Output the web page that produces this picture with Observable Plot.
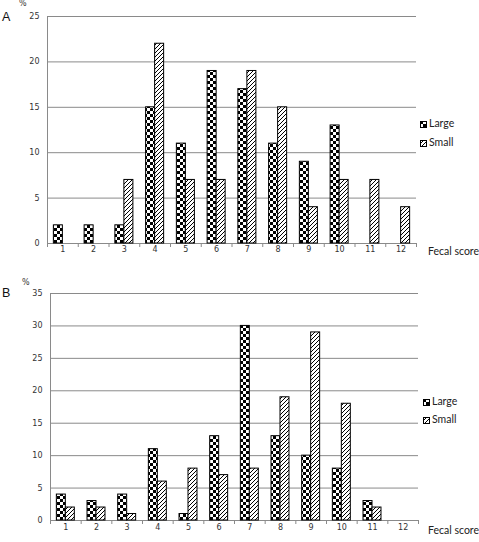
<!DOCTYPE html>
<html>
<head>
<meta charset="utf-8">
<script src="https://cdn.jsdelivr.net/npm/d3@7"></script>
<script src="https://cdn.jsdelivr.net/npm/@observablehq/plot@0.6"></script>
<style>
  body { margin: 0; background: #fff; }
  #wrap { position: relative; width: 479px; height: 542px; background: #fff; overflow: hidden; }
  .panel { position: absolute; left: 0; }
  .lbl { position: absolute; white-space: nowrap; line-height: 1; }
  .big { font-family: "Liberation Sans", Arial, sans-serif; font-size: 12.5px; color: #111; }
  .pct { font-family: "DejaVu Sans", sans-serif; font-size: 8px; color: #333; }
  .cal { font-family: Lato, "Open Sans", sans-serif; font-size: 10.5px; color: #222; }
  .leg { position: absolute; font-family: Lato, "Open Sans", sans-serif; font-size: 10.5px; color: #222; line-height: 1; white-space: nowrap; }
  .leg svg { vertical-align: -1px; margin-right: 2px; }
</style>
</head>
<body>
<svg width="0" height="0" style="position:absolute">
  <defs>
    <pattern id="checker" patternUnits="userSpaceOnUse" width="6" height="6">
      <rect width="6" height="6" fill="#fff"/>
      <rect x="0" y="0" width="3" height="3" fill="#000"/>
      <rect x="3" y="3" width="3" height="3" fill="#000"/>
    </pattern>
    <pattern id="hatch" patternUnits="userSpaceOnUse" width="4" height="4">
      <rect width="4" height="4" fill="#fff"/>
      <path d="M-1,1 l2,-2 M0,4 l4,-4 M3,5 l2,-2" stroke="#000" stroke-width="1"/>
    </pattern>
  </defs>
</svg>
<div id="wrap"></div>
<script>
// ---- data ----
const scores = [1, 2, 3, 4, 5, 6, 7, 8, 9, 10, 11, 12];
const seriesNames = ["Large", "Small"];
const largeA = [2, 2, 2, 15, 11, 19, 17, 11, 9, 13, 0, 0];
const smallA = [0, 0, 7, 22, 7, 7, 19, 15, 4, 7, 7, 4];
const largeB = [4, 3, 4, 11, 1, 13, 30, 13, 10, 8, 3, 0];
const smallB = [2, 2, 1, 6, 8, 7, 8, 19, 29, 18, 2, 0];
const yTicksA = [0, 5, 10, 15, 20, 25];
const yTicksB = [0, 5, 10, 15, 20, 25, 30, 35];
const panelLetters = ["A", "B"];
const xTitle = "Fecal score";
const yUnit = "%";

const fills = {Large: "url(#checker)", Small: "url(#hatch)"};
const barW = 0.293;
const grid = "#8a8a8a";
const boundaries = d3.range(0.5, 13, 1);

function chart({large, small, yTicks, mTop, mBottom, mLeft, mRight, pad}) {
  const rowsL = scores.map((s, i) => ({score: s, value: large[i]})).filter(d => d.value > 0);
  const rowsS = scores.map((s, i) => ({score: s, value: small[i]})).filter(d => d.value > 0);
  return Plot.plot({
    width: 479,
    height: 271,
    marginTop: mTop,
    marginBottom: mBottom,
    marginLeft: mLeft,
    marginRight: mRight,
    style: {fontFamily: "DejaVu Sans, sans-serif", fontSize: "8px", color: "#333", background: "transparent"},
    x: {domain: [0.5, 12.5], axis: null},
    y: {domain: [0, d3.max(yTicks)], axis: null},
    marks: [
      Plot.ruleY(yTicks, {stroke: grid, strokeWidth: 1}),
      Plot.ruleX([0.5], {stroke: grid, strokeWidth: 1}),
      Plot.rectY(rowsL, {x1: d => d.score - barW, x2: "score", y1: 0, y2: "value", fill: fills.Large, stroke: "#000", strokeWidth: 1}),
      Plot.rectY(rowsS, {x1: "score", x2: d => d.score + barW, y1: 0, y2: "value", fill: fills.Small, stroke: "#000", strokeWidth: 1}),
      Plot.axisY({ticks: yTicks, tickSize: 0, tickPadding: 8, tickFormat: d => d, label: null}),
      Plot.axisX({ticks: boundaries, tickSize: 4, tickFormat: () => "", stroke: grid, label: null}),
      Plot.axisX({ticks: scores, tickSize: 0, tickPadding: pad, tickFormat: d => d, label: null})
    ]
  });
}

const wrap = document.getElementById("wrap");
const configs = [
  {large: largeA, small: smallA, yTicks: yTicksA, mTop: 16, mBottom: 28, mLeft: 47, mRight: 63, pad: 3, top: 0,
   letter: [2, 11], pct: [19, 0], xt: [428, 246], leg: [[420, 118], [420, 137]]},
  {large: largeB, small: smallB, yTicks: yTicksB, mTop: 22, mBottom: 22, mLeft: 50, mRight: 61, pad: 4, top: 271,
   letter: [2, 287], pct: [22, 279], xt: [428, 525], leg: [[423, 396], [423, 414]]}
];

configs.forEach((c, k) => {
  const svg = chart(c);
  svg.classList.add("panel");
  svg.style.top = c.top + "px";
  wrap.appendChild(svg);

  const L = document.createElement("div");
  L.className = "lbl big";
  L.style.left = c.letter[0] + "px"; L.style.top = c.letter[1] + "px";
  L.textContent = panelLetters[k];
  wrap.appendChild(L);

  const P = document.createElement("div");
  P.className = "lbl pct";
  P.style.left = c.pct[0] + "px"; P.style.top = c.pct[1] + "px";
  P.textContent = yUnit;
  wrap.appendChild(P);

  const X = document.createElement("div");
  X.className = "lbl cal";
  X.style.left = c.xt[0] + "px"; X.style.top = c.xt[1] + "px";
  X.textContent = xTitle;
  wrap.appendChild(X);

  seriesNames.forEach((name, j) => {
    const g = document.createElement("div");
    g.className = "leg";
    g.style.left = c.leg[j][0] + "px"; g.style.top = c.leg[j][1] + "px";
    g.innerHTML = `<svg width="7" height="7"><rect x="0.5" y="0.5" width="6" height="6" fill="${fills[name]}" stroke="#000"/></svg>`;
    g.appendChild(document.createTextNode(name));
    wrap.appendChild(g);
  });
});
</script>
</body>
</html>
